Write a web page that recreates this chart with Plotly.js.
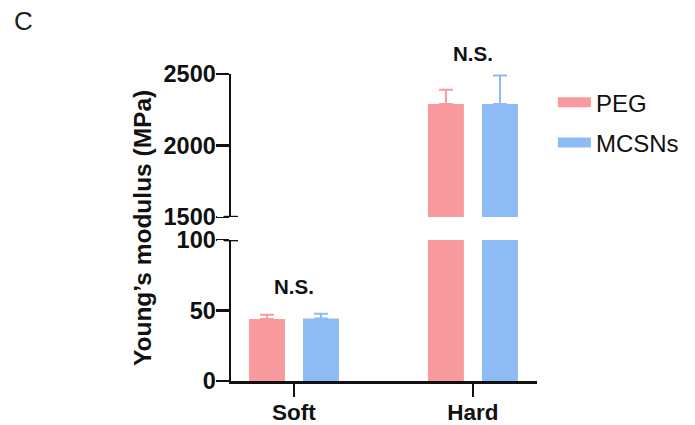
<!DOCTYPE html>
<html>
<head>
<meta charset="utf-8">
<script src="https://cdn.plot.ly/plotly-3.0.1.min.js"></script>
<style>html,body{margin:0;padding:0;background:#fff;}#chart{width:695px;height:425px;}</style>
</head>
<body>
<div id="chart"></div>
<script>
// ---- data ----
const categories = ['Soft', 'Hard'];
const seriesNames = ['PEG', 'MCSNs'];
const pegMean = [44, 2290];
const pegErr = [3, 100];
const mcsnsMean = [44.3, 2290];
const mcsnsErr = [3.5, 200];
const lowerTicks = [0, 50, 100];
const upperTicks = [1500, 2000, 2500];
const sigLabels = ['N.S.', 'N.S.'];

// ---- styling ----
const FONT = 'Liberation Sans, Arial, Helvetica, sans-serif';
const colors = ['#F99B9E', '#8DBBF3'];
const means = [pegMean, mcsnsMean];
const errs = [pegErr, mcsnsErr];

const traces = [];
['y', 'y2'].forEach(function (ax) {
  seriesNames.forEach(function (name, i) {
    traces.push({
      type: 'bar',
      name: name,
      x: categories,
      y: means[i],
      yaxis: ax,
      xaxis: 'x',
      showlegend: false,
      marker: { color: colors[i], line: { width: 0 } },
      error_y: {
        type: 'data', symmetric: false,
        array: errs[i], arrayminus: errs[i].map(function () { return 0; }),
        color: colors[i], thickness: 2, width: 7
      },
      hoverinfo: 'skip'
    });
  });
});
// legend entries
seriesNames.forEach(function (name, i) {
  traces.push({
    type: 'scatter', mode: 'lines', name: name,
    x: [null], y: [null],
    line: { color: colors[i], width: 16 },
    legendgroup: name,
    showlegend: true
  });
});

const axisCommon = {
  showline: true, linecolor: '#111', linewidth: 2.5,
  ticks: 'outside', ticklen: 13, tickwidth: 2.5, tickcolor: '#111',
  showgrid: false, zeroline: false,
  tickfont: { family: FONT, size: 23.5, color: '#111', weight: 'bold' },
  ticklabelstandoff: -5,
  fixedrange: true
};

const layout = {
  width: 695, height: 425,
  margin: { l: 231, r: 158, t: 74, b: 44, autoexpand: false },
  paper_bgcolor: '#fff', plot_bgcolor: '#fff',
  barmode: 'group', bargap: 0.396, bargroupgap: 0.334,
  font: { family: FONT, color: '#111' },
  xaxis: Object.assign({}, axisCommon, {
    type: 'category', range: [-0.352, 1.358], anchor: 'y',
    ticklabelstandoff: -4,
    tickfont: { family: FONT, size: 22.5, color: '#111', weight: 'bold' }
  }),
  yaxis: Object.assign({}, axisCommon, {
    domain: [0, 0.459], range: [0, 100], anchor: 'x',
    tickmode: 'array', tickvals: lowerTicks, ticktext: lowerTicks.map(String)
  }),
  yaxis2: Object.assign({}, axisCommon, {
    domain: [0.534, 1], range: [1500, 2500], anchor: 'x',
    tickmode: 'array', tickvals: upperTicks, ticktext: upperTicks.map(String)
  }),
  showlegend: true,
  legend: {
    x: 1.052, y: 0.98, xanchor: 'left', yanchor: 'top',
    font: { family: FONT, size: 24, color: '#111' },
    bgcolor: 'rgba(0,0,0,0)', tracegroupgap: 6, itemwidth: 33
  },
  shapes: [
    // break caps
    { type: 'line', xref: 'paper', xsizemode: 'pixel', xanchor: 0, x0: -14, x1: -7.5,
      yref: 'y', y0: lowerTicks[2], y1: lowerTicks[2], line: { color: '#fff', width: 4 }, layer: 'above' },
    { type: 'line', xref: 'paper', xsizemode: 'pixel', xanchor: 0, x0: -14, x1: -7.5,
      yref: 'y2', y0: upperTicks[0], y1: upperTicks[0], line: { color: '#fff', width: 4 }, layer: 'above' },
    { type: 'line', xref: 'paper', xsizemode: 'pixel', xanchor: 0, x0: -7, x1: 7,
      yref: 'y', y0: lowerTicks[2], y1: lowerTicks[2], line: { color: '#111', width: 2.5 }, layer: 'above' },
    { type: 'line', xref: 'paper', xsizemode: 'pixel', xanchor: 0, x0: -7, x1: 7,
      yref: 'y2', y0: upperTicks[0], y1: upperTicks[0], line: { color: '#111', width: 2.5 }, layer: 'above' }
  ],
  annotations: [
    { text: 'C', xref: 'paper', yref: 'paper', x: -0.715, y: 1.173, xanchor: 'left', yanchor: 'middle',
      showarrow: false, font: { family: FONT, size: 26, color: '#222' } },
    { text: 'Young’s modulus (MPa)', xref: 'paper', yref: 'paper', x: -0.291, y: 0.498,
      xanchor: 'center', yanchor: 'middle', textangle: -90, showarrow: false,
      font: { family: FONT, size: 24.5, color: '#111', weight: 'bold' } },
    { text: sigLabels[0], xref: 'x', yref: 'y', x: categories[0], y: 67, xanchor: 'center', yanchor: 'middle',
      showarrow: false, font: { family: FONT, size: 20.5, color: '#111', weight: 'bold' } },
    { text: sigLabels[1], xref: 'x', yref: 'paper', x: categories[1], y: 1.068, xanchor: 'center', yanchor: 'middle',
      showarrow: false, font: { family: FONT, size: 20.5, color: '#111', weight: 'bold' } }
  ]
};

Plotly.newPlot('chart', traces, layout, { staticPlot: true, displayModeBar: false });
</script>
</body>
</html>
